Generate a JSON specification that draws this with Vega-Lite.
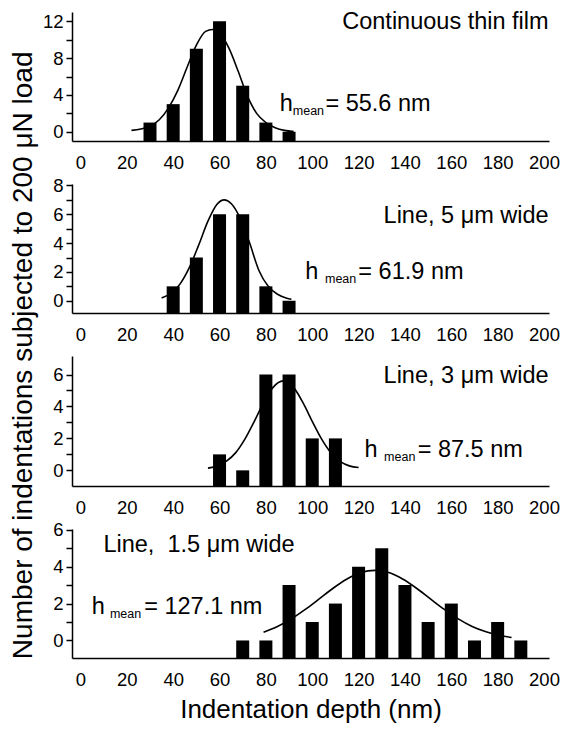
{
  "$schema": "https://vega.github.io/schema/vega-lite/v6.json",
  "padding": {"left": 10, "top": 10, "right": 5, "bottom": 2},
  "background": "white",
  "title": {"text": "Number of indentations subjected to 200 μN load", "orient": "left", "anchor": "middle", "fontSize": 28, "fontWeight": "normal", "font": "Liberation Sans", "color": "black", "offset": 4, "dx": 11},
  "spacing": 43,
  "bounds": "flush",
  "datasets": {
    "bars": [
      {"panel": 1, "depth": 30, "n": 1}, {"panel": 1, "depth": 40, "n": 3}, {"panel": 1, "depth": 50, "n": 9}, {"panel": 1, "depth": 60, "n": 12}, {"panel": 1, "depth": 70, "n": 5}, {"panel": 1, "depth": 80, "n": 1}, {"panel": 1, "depth": 90, "n": 0},
      {"panel": 2, "depth": 40, "n": 1}, {"panel": 2, "depth": 50, "n": 3}, {"panel": 2, "depth": 60, "n": 6}, {"panel": 2, "depth": 70, "n": 6}, {"panel": 2, "depth": 80, "n": 1}, {"panel": 2, "depth": 90, "n": 0},
      {"panel": 3, "depth": 60, "n": 1}, {"panel": 3, "depth": 70, "n": 0}, {"panel": 3, "depth": 80, "n": 6}, {"panel": 3, "depth": 90, "n": 6}, {"panel": 3, "depth": 100, "n": 2}, {"panel": 3, "depth": 110, "n": 2},
      {"panel": 4, "depth": 70, "n": 0}, {"panel": 4, "depth": 80, "n": 0}, {"panel": 4, "depth": 90, "n": 3}, {"panel": 4, "depth": 100, "n": 1}, {"panel": 4, "depth": 110, "n": 2}, {"panel": 4, "depth": 120, "n": 4}, {"panel": 4, "depth": 130, "n": 5}, {"panel": 4, "depth": 140, "n": 3}, {"panel": 4, "depth": 150, "n": 1}, {"panel": 4, "depth": 160, "n": 2}, {"panel": 4, "depth": 170, "n": 0}, {"panel": 4, "depth": 180, "n": 1}, {"panel": 4, "depth": 190, "n": 0}
    ],
    "fits": [
      {"panel": 1, "depth": 22, "n": 0.15}, {"panel": 1, "depth": 26, "n": 0.3}, {"panel": 1, "depth": 30, "n": 0.6}, {"panel": 1, "depth": 34, "n": 1.3}, {"panel": 1, "depth": 38, "n": 2.6}, {"panel": 1, "depth": 42, "n": 4.5}, {"panel": 1, "depth": 46, "n": 7.0}, {"panel": 1, "depth": 50, "n": 9.4}, {"panel": 1, "depth": 54, "n": 10.9}, {"panel": 1, "depth": 57, "n": 11.1}, {"panel": 1, "depth": 60, "n": 10.7}, {"panel": 1, "depth": 64, "n": 9.1}, {"panel": 1, "depth": 68, "n": 6.6}, {"panel": 1, "depth": 72, "n": 3.9}, {"panel": 1, "depth": 76, "n": 2.0}, {"panel": 1, "depth": 80, "n": 1.0}, {"panel": 1, "depth": 84, "n": 0.45}, {"panel": 1, "depth": 88, "n": 0.15}, {"panel": 1, "depth": 92, "n": 0.02},
      {"panel": 2, "depth": 35, "n": 0.19}, {"panel": 2, "depth": 39, "n": 0.51}, {"panel": 2, "depth": 43, "n": 1.17}, {"panel": 2, "depth": 47, "n": 2.31}, {"panel": 2, "depth": 51, "n": 3.86}, {"panel": 2, "depth": 55, "n": 5.52}, {"panel": 2, "depth": 59, "n": 6.71}, {"panel": 2, "depth": 62, "n": 7.0}, {"panel": 2, "depth": 65, "n": 6.75}, {"panel": 2, "depth": 69, "n": 5.7}, {"panel": 2, "depth": 73, "n": 4.0}, {"panel": 2, "depth": 77, "n": 2.1}, {"panel": 2, "depth": 81, "n": 1.0}, {"panel": 2, "depth": 85, "n": 0.45}, {"panel": 2, "depth": 89, "n": 0.18}, {"panel": 2, "depth": 91, "n": 0.1},
      {"panel": 3, "depth": 55, "n": 0.14}, {"panel": 3, "depth": 59, "n": 0.28}, {"panel": 3, "depth": 63, "n": 0.58}, {"panel": 3, "depth": 67, "n": 1.11}, {"panel": 3, "depth": 71, "n": 1.97}, {"panel": 3, "depth": 75, "n": 3.07}, {"panel": 3, "depth": 79, "n": 4.24}, {"panel": 3, "depth": 83, "n": 5.18}, {"panel": 3, "depth": 87.5, "n": 5.6}, {"panel": 3, "depth": 92, "n": 5.18}, {"panel": 3, "depth": 96, "n": 4.24}, {"panel": 3, "depth": 100, "n": 3.07}, {"panel": 3, "depth": 104, "n": 1.97}, {"panel": 3, "depth": 108, "n": 1.11}, {"panel": 3, "depth": 112, "n": 0.56}, {"panel": 3, "depth": 116, "n": 0.28}, {"panel": 3, "depth": 120, "n": 0.18},
      {"panel": 4, "depth": 79, "n": 0.45}, {"panel": 4, "depth": 85, "n": 0.76}, {"panel": 4, "depth": 91, "n": 1.17}, {"panel": 4, "depth": 97, "n": 1.68}, {"panel": 4, "depth": 103, "n": 2.25}, {"panel": 4, "depth": 109, "n": 2.83}, {"panel": 4, "depth": 115, "n": 3.33}, {"panel": 4, "depth": 121, "n": 3.68}, {"panel": 4, "depth": 127, "n": 3.8}, {"panel": 4, "depth": 133, "n": 3.68}, {"panel": 4, "depth": 139, "n": 3.33}, {"panel": 4, "depth": 145, "n": 2.83}, {"panel": 4, "depth": 151, "n": 2.25}, {"panel": 4, "depth": 157, "n": 1.68}, {"panel": 4, "depth": 163, "n": 1.17}, {"panel": 4, "depth": 169, "n": 0.76}, {"panel": 4, "depth": 175, "n": 0.47}, {"panel": 4, "depth": 181, "n": 0.27}, {"panel": 4, "depth": 186, "n": 0.16}
    ],
    "xticks": [
      {"depth": 10}, {"depth": 30}, {"depth": 50}, {"depth": 70}, {"depth": 90}, {"depth": 110}, {"depth": 130}, {"depth": 150}, {"depth": 170}, {"depth": 190}
    ],
    "titles": [
      {"panel": 1, "depth": 202, "n": 11.14, "label": "Continuous thin film"},
      {"panel": 2, "depth": 202, "n": 5.4, "label": "Line, 5 μm wide"},
      {"panel": 3, "depth": 202, "n": 5.47, "label": "Line, 3 μm wide"},
      {"panel": 4, "depth": 9.9, "n": 4.8, "label": "Line, \u00a01.5 μm wide"}
    ],
    "mains": [
      {"panel": 1, "depth": 86, "n": 2.25, "label": "h"}, {"panel": 1, "depth": 105.7, "n": 2.25, "label": "= 55.6 nm"},
      {"panel": 2, "depth": 97, "n": 1.5, "label": "h"}, {"panel": 2, "depth": 119.9, "n": 1.5, "label": "= 61.9 nm"},
      {"panel": 3, "depth": 122.6, "n": 0.85, "label": "h"}, {"panel": 3, "depth": 145.5, "n": 0.85, "label": "= 87.5 nm"},
      {"panel": 4, "depth": 4.9, "n": 1.45, "label": "h"}, {"panel": 4, "depth": 27.5, "n": 1.45, "label": "= 127.1 nm"}
    ],
    "subs": [
      {"panel": 1, "depth": 91.6, "n": 1.81, "label": "mean"},
      {"panel": 2, "depth": 105.5, "n": 1.22, "label": "mean"},
      {"panel": 3, "depth": 131, "n": 0.6, "label": "mean"},
      {"panel": 4, "depth": 12.7, "n": 1.23, "label": "mean"}
    ]
  },
  "vconcat": [
    {
      "width": 477, "height": 129,
      "encoding": {
        "x": {"field": "depth", "type": "quantitative", "scale": {"domain": [-1.5, 200]}, "axis": {"values": [0,20,40,60,80,100,120,140,160,180,200], "title": null}},
        "y": {"field": "n", "type": "quantitative", "scale": {"domain": [-1, 13], "nice": false, "zero": false}, "axis": {"values": [0,2,4,6,8,10,12], "labelExpr": "datum.value % 4 === 0 ? datum.label : ''", "title": null}}
      },
      "layer": [
        {"data": {"name": "xticks"}, "mark": {"type": "tick", "orient": "vertical", "color": "black", "size": 9, "thickness": 1.5}, "encoding": {"y": {"datum": -1}}},
        {"data": {"name": "bars"}, "transform": [{"filter": "datum.panel === 1"}], "mark": {"type": "bar", "color": "black", "size": 13}, "encoding": {"y2": {"datum": -1}}},
        {"data": {"name": "fits"}, "transform": [{"filter": "datum.panel === 1"}], "mark": {"type": "line", "color": "black", "strokeWidth": 1.6, "interpolate": "monotone"}, "encoding": {}},
        {"data": {"name": "titles"}, "transform": [{"filter": "datum.panel === 1"}], "mark": {"type": "text", "align": "right", "baseline": "alphabetic", "fontSize": 23.5}, "encoding": {"text": {"field": "label"}}},
        {"data": {"name": "mains"}, "transform": [{"filter": "datum.panel === 1"}], "mark": {"type": "text", "align": "left", "baseline": "alphabetic", "fontSize": 23.5}, "encoding": {"text": {"field": "label"}}},
        {"data": {"name": "subs"}, "transform": [{"filter": "datum.panel === 1"}], "mark": {"type": "text", "align": "left", "baseline": "alphabetic", "fontSize": 12.5}, "encoding": {"text": {"field": "label"}}}
      ]
    },
    {
      "width": 477, "height": 129,
      "encoding": {
        "x": {"field": "depth", "type": "quantitative", "scale": {"domain": [-1.5, 200]}, "axis": {"values": [0,20,40,60,80,100,120,140,160,180,200], "title": null}},
        "y": {"field": "n", "type": "quantitative", "scale": {"domain": [-0.85, 8.1], "nice": false, "zero": false}, "axis": {"values": [0,1,2,3,4,5,6,7,8], "labelExpr": "datum.value % 2 === 0 ? datum.label : ''", "title": null}}
      },
      "layer": [
        {"data": {"name": "xticks"}, "mark": {"type": "tick", "orient": "vertical", "color": "black", "size": 9, "thickness": 1.5}, "encoding": {"y": {"datum": -0.85}}},
        {"data": {"name": "bars"}, "transform": [{"filter": "datum.panel === 2"}], "mark": {"type": "bar", "color": "black", "size": 13}, "encoding": {"y2": {"datum": -0.85}}},
        {"data": {"name": "fits"}, "transform": [{"filter": "datum.panel === 2"}], "mark": {"type": "line", "color": "black", "strokeWidth": 1.6, "interpolate": "monotone"}, "encoding": {}},
        {"data": {"name": "titles"}, "transform": [{"filter": "datum.panel === 2"}], "mark": {"type": "text", "align": "right", "baseline": "alphabetic", "fontSize": 23.5}, "encoding": {"text": {"field": "label"}}},
        {"data": {"name": "mains"}, "transform": [{"filter": "datum.panel === 2"}], "mark": {"type": "text", "align": "left", "baseline": "alphabetic", "fontSize": 23.5}, "encoding": {"text": {"field": "label"}}},
        {"data": {"name": "subs"}, "transform": [{"filter": "datum.panel === 2"}], "mark": {"type": "text", "align": "left", "baseline": "alphabetic", "fontSize": 12.5}, "encoding": {"text": {"field": "label"}}}
      ]
    },
    {
      "width": 477, "height": 130,
      "encoding": {
        "x": {"field": "depth", "type": "quantitative", "scale": {"domain": [-1.5, 200]}, "axis": {"values": [0,20,40,60,80,100,120,140,160,180,200], "title": null}},
        "y": {"field": "n", "type": "quantitative", "scale": {"domain": [-0.98, 7.16], "nice": false, "zero": false}, "axis": {"values": [0,1,2,3,4,5,6], "labelExpr": "datum.value % 2 === 0 ? datum.label : ''", "title": null}}
      },
      "layer": [
        {"data": {"name": "xticks"}, "mark": {"type": "tick", "orient": "vertical", "color": "black", "size": 9, "thickness": 1.5}, "encoding": {"y": {"datum": -0.98}}},
        {"data": {"name": "bars"}, "transform": [{"filter": "datum.panel === 3"}], "mark": {"type": "bar", "color": "black", "size": 13}, "encoding": {"y2": {"datum": -0.98}}},
        {"data": {"name": "fits"}, "transform": [{"filter": "datum.panel === 3"}], "mark": {"type": "line", "color": "black", "strokeWidth": 1.6, "interpolate": "monotone"}, "encoding": {}},
        {"data": {"name": "titles"}, "transform": [{"filter": "datum.panel === 3"}], "mark": {"type": "text", "align": "right", "baseline": "alphabetic", "fontSize": 23.5}, "encoding": {"text": {"field": "label"}}},
        {"data": {"name": "mains"}, "transform": [{"filter": "datum.panel === 3"}], "mark": {"type": "text", "align": "left", "baseline": "alphabetic", "fontSize": 23.5}, "encoding": {"text": {"field": "label"}}},
        {"data": {"name": "subs"}, "transform": [{"filter": "datum.panel === 3"}], "mark": {"type": "text", "align": "left", "baseline": "alphabetic", "fontSize": 12.5}, "encoding": {"text": {"field": "label"}}}
      ]
    },
    {
      "width": 477, "height": 129,
      "encoding": {
        "x": {"field": "depth", "type": "quantitative", "scale": {"domain": [-1.5, 200]}, "axis": {"values": [0,20,40,60,80,100,120,140,160,180,200], "title": "Indentation depth (nm)", "titlePadding": 8}},
        "y": {"field": "n", "type": "quantitative", "scale": {"domain": [-0.95, 6.04], "nice": false, "zero": false}, "axis": {"values": [0,1,2,3,4,5,6], "labelExpr": "datum.value % 2 === 0 ? datum.label : ''", "title": null}}
      },
      "layer": [
        {"data": {"name": "xticks"}, "mark": {"type": "tick", "orient": "vertical", "color": "black", "size": 9, "thickness": 1.5}, "encoding": {"y": {"datum": -0.95}}},
        {"data": {"name": "bars"}, "transform": [{"filter": "datum.panel === 4"}], "mark": {"type": "bar", "color": "black", "size": 13}, "encoding": {"y2": {"datum": -0.95}}},
        {"data": {"name": "fits"}, "transform": [{"filter": "datum.panel === 4"}], "mark": {"type": "line", "color": "black", "strokeWidth": 1.6, "interpolate": "monotone"}, "encoding": {}},
        {"data": {"name": "titles"}, "transform": [{"filter": "datum.panel === 4"}], "mark": {"type": "text", "align": "left", "baseline": "alphabetic", "fontSize": 23.5}, "encoding": {"text": {"field": "label"}}},
        {"data": {"name": "mains"}, "transform": [{"filter": "datum.panel === 4"}], "mark": {"type": "text", "align": "left", "baseline": "alphabetic", "fontSize": 23.5}, "encoding": {"text": {"field": "label"}}},
        {"data": {"name": "subs"}, "transform": [{"filter": "datum.panel === 4"}], "mark": {"type": "text", "align": "left", "baseline": "alphabetic", "fontSize": 12.5}, "encoding": {"text": {"field": "label"}}}
      ]
    }
  ],
  "config": {
    "view": {"stroke": null},
    "font": "Liberation Sans",
    "text": {"font": "Liberation Sans", "color": "black"},
    "axis": {"grid": false, "domainColor": "black", "domainWidth": 1.5, "tickColor": "black", "tickWidth": 1.5, "tickSize": 6, "labelColor": "black", "labelFontSize": 18.5, "labelFont": "Liberation Sans", "titleFont": "Liberation Sans", "titleFontWeight": "normal", "titleColor": "black", "titleFontSize": 26},
    "axisX": {"labelFlush": false, "labelOverlap": false, "labelBound": false, "labelPadding": 12, "ticks": false},
    "axisY": {"labelPadding": 3, "labelOverlap": false}
  }
}
